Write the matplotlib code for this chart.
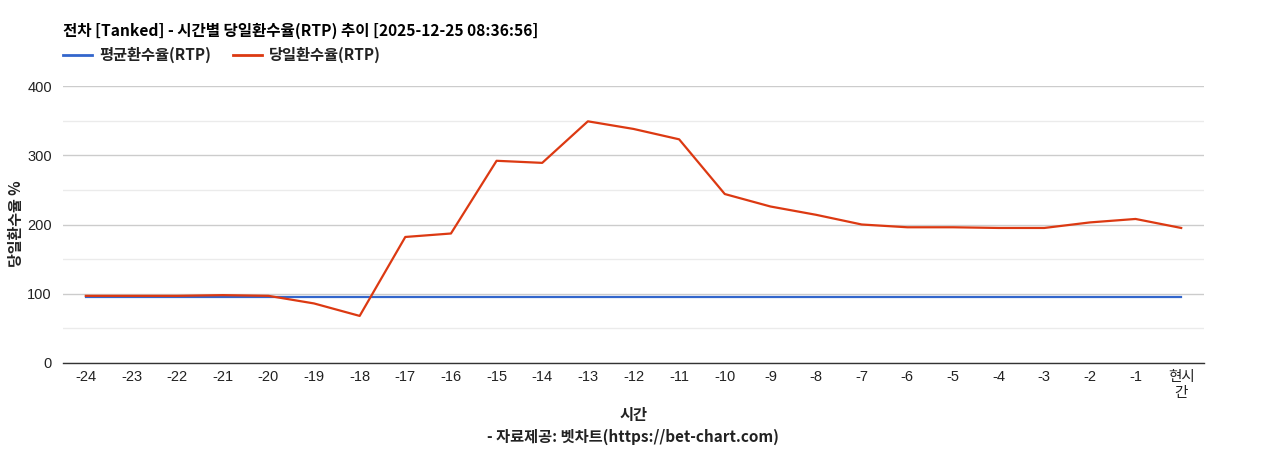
import matplotlib
matplotlib.use("Agg")
import matplotlib.pyplot as plt
from matplotlib.lines import Line2D

# =========================
# 데이터
# =========================
HOURS = ["-24", "-23", "-22", "-21", "-20", "-19", "-18", "-17", "-16", "-15",
         "-14", "-13", "-12", "-11", "-10", "-9", "-8", "-7", "-6", "-5",
         "-4", "-3", "-2", "-1", "현시\n간"]
AVG_RTP = [96] * len(HOURS)
DAY_RTP = [97, 97, 97, 98, 97, 86, 68, 182, 187, 292,
           289, 349, 338, 323, 244, 226, 214, 200, 196, 196,
           195, 195, 203, 208, 195]

TITLE = "전차 [Tanked] - 시간별 당일환수율(RTP) 추이 [2025-12-25 08:36:56]"
LEGEND_LABELS = ["평균환수율(RTP)", "당일환수율(RTP)"]
Y_LABEL = "당일환수율 %"
X_LABEL = "시간"
CREDIT = "- 자료제공: 벳차트(https://bet-chart.com)"

COLOR_AVG = "#3366cc"
COLOR_DAY = "#dc3912"

KR = ["Noto Sans CJK KR", "DejaVu Sans"]
LAT = ["Liberation Sans", "Noto Sans CJK KR"]

W, H = 1268, 450
fig = plt.figure(figsize=(W / 100, H / 100), dpi=100)
ax = fig.add_axes([63 / W, 1 - 363 / H, 1141 / W, 277 / H])

x = list(range(len(HOURS)))
ax.plot(x, AVG_RTP, color=COLOR_AVG, lw=1.6, zorder=3)
ax.plot(x, DAY_RTP, color=COLOR_DAY, lw=1.6, zorder=4)

ax.set_xlim(-0.5, len(HOURS) - 0.5)
ax.set_ylim(0, 400)
ax.set_yticks([0, 100, 200, 300, 400])
ax.set_yticks([50, 150, 250, 350], minor=True)
ax.grid(axis="y", which="major", color="#cccccc", lw=1)
ax.grid(axis="y", which="minor", color="#ebebeb", lw=1)
ax.set_axisbelow(True)

ax.set_xticks(x)
ax.set_xticklabels(HOURS, family=LAT + KR, fontsize=10.5, color="#222222",
                   linespacing=1.15, va="top")
for lbl in ax.get_yticklabels():
    lbl.set_family(LAT)
    lbl.set_fontsize(10.5)
    lbl.set_color("#222222")
ax.tick_params(axis="both", which="both", length=0)
ax.tick_params(axis="x", pad=5)
ax.tick_params(axis="y", pad=8)

for side in ["top", "right", "left"]:
    ax.spines[side].set_visible(False)
ax.spines["bottom"].set_color("#333333")
ax.spines["bottom"].set_linewidth(1)

# 제목/범례
fig.text(63 / W, 1 - 31 / H, TITLE, family=KR, fontsize=11.2, fontweight="bold",
         ha="left", va="center", color="#000000")
for x0, col, lab in [(63, COLOR_AVG, LEGEND_LABELS[0]), (233, COLOR_DAY, LEGEND_LABELS[1])]:
    fig.add_artist(Line2D([x0 / W, (x0 + 29) / W], [1 - 55 / H] * 2,
                          color=col, lw=2, transform=fig.transFigure))
    fig.text((x0 + 36) / W, 1 - 55 / H, lab, family=KR, fontsize=11,
             fontweight="bold", ha="left", va="center", color="#222222")

fig.text(16 / W, 1 - 224 / H, Y_LABEL, family=KR, fontsize=10.8, fontweight="bold",
         rotation=90, ha="center", va="center", color="#222222")
fig.text(634 / W, 1 - 415 / H, X_LABEL, family=KR, fontsize=11, fontweight="bold",
         ha="center", va="center", color="#222222")
fig.text(633 / W, 1 - 437 / H, CREDIT, family=KR, fontsize=11, fontweight="bold",
         ha="center", va="center", color="#222222")

fig.savefig("out.png", dpi=100, facecolor="white")
